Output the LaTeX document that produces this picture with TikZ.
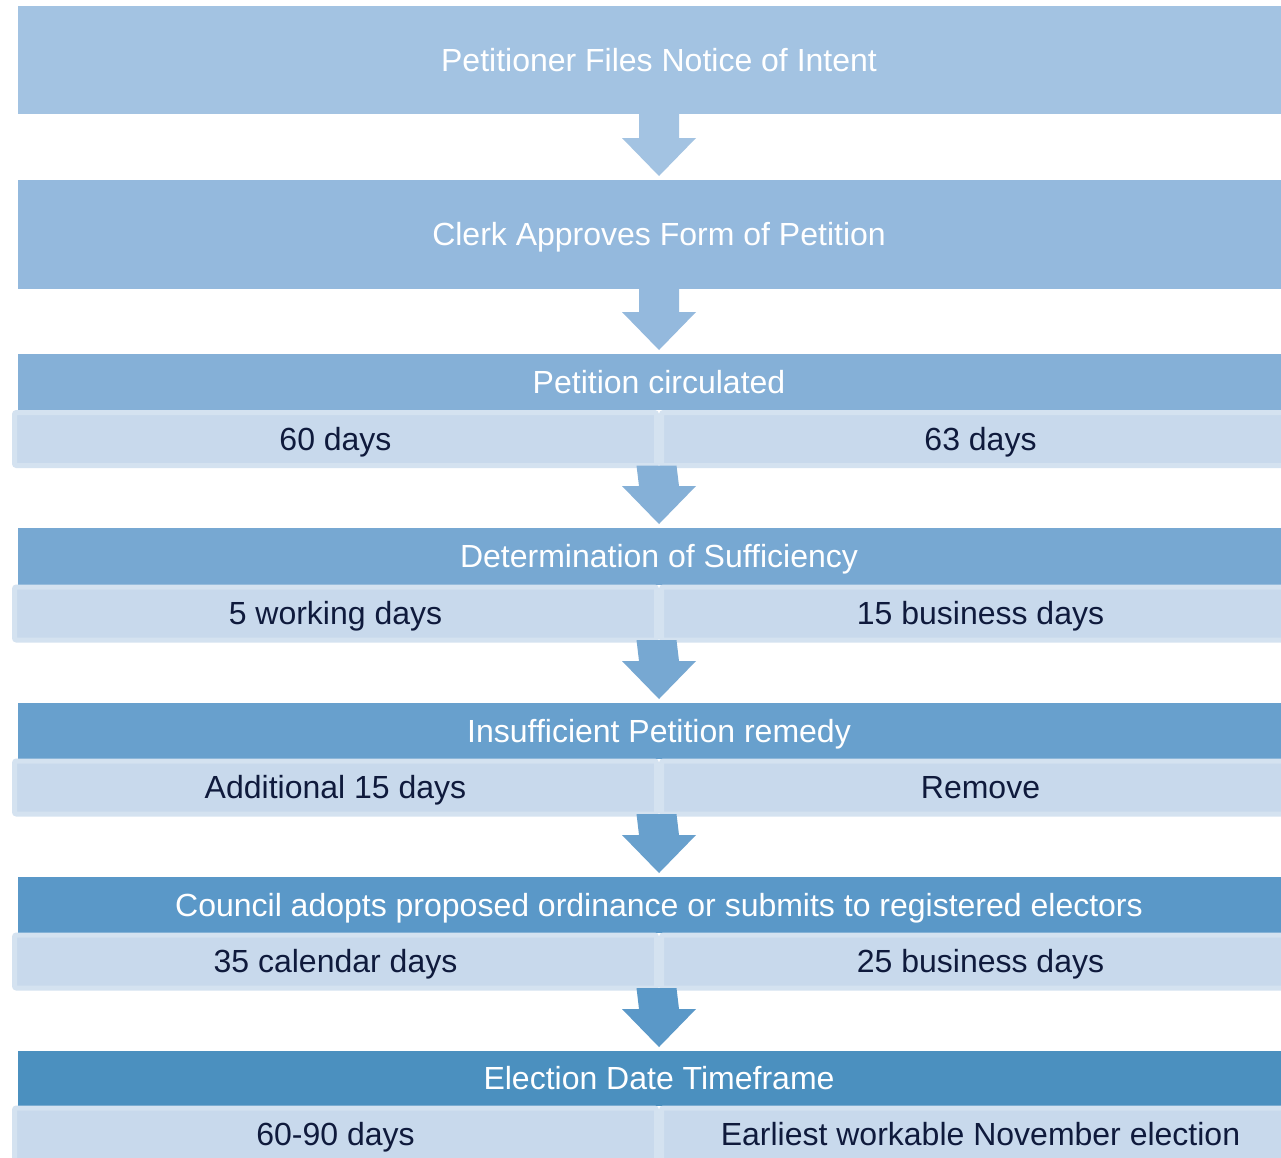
\documentclass[tikz,border=0pt]{standalone}
\usepackage{fontspec}
\setmainfont{Liberation Sans}
\usetikzlibrary{calc}
\definecolor{cA}{HTML}{A3C3E2}
\definecolor{cB}{HTML}{94B9DD}
\definecolor{cC}{HTML}{85B0D7}
\definecolor{cD}{HTML}{77A8D2}
\definecolor{cE}{HTML}{68A0CD}
\definecolor{cF}{HTML}{5A98C8}
\definecolor{cG}{HTML}{4B90BF}
\definecolor{cellfill}{HTML}{C8D9EC}
\definecolor{cellline}{HTML}{D4E2F0}
\definecolor{celltext}{HTML}{0F1A3C}
\newcommand\blockarrow[3]{\fill[#3] ($(#1)+(-20,0)$) -- ($(#2.north)+(-20,-42)$) -- ($(#2.north)+(-37,-42)$) -- ($(#2.north)+(0,-4)$) -- ($(#2.north)+(37,-42)$) -- ($(#2.north)+(20,-42)$) -- ($(#1)+(20,0)$) -- cycle;}
\begin{document}
\begin{tikzpicture}[x=1pt,y=-1pt,
  txt/.style={font=\fontsize{32}{36}\selectfont,text height=23pt,text depth=1pt},
  big/.style={txt,inner sep=0pt,outer sep=0pt,minimum width=1282pt,text=white,anchor=north west},
  head/.style={big},
  cell/.style={txt,draw=cellline,line width=5pt,fill=cellfill,rounded corners=2pt,inner sep=0pt,outer sep=0pt,minimum height=53pt,text=celltext},
  lcell/.style={cell,minimum width=642pt},
  rcell/.style={cell,minimum width=638pt}]
\useasboundingbox (0,0) rectangle (1281,1157);
\clip (0,0) rectangle (1281,1157);
\fill[white] (0,0) rectangle (1281,1157);
% boxes
\node[big,fill=cA,minimum height=108pt] (b1) at (18,6) {Petitioner Files Notice of Intent};
\node[big,fill=cB,minimum height=109pt] (b2) at (18,180) {Clerk Approves Form of Petition};
\node[head,fill=cC,minimum height=56pt] (b3) at (18,354) {Petition circulated};
\node[lcell] (l3) at (335.5,439) {60 days};
\node[rcell] (r3) at (980.5,439) {63 days};
\node[head,fill=cD,minimum height=57pt] (b4) at (18,528) {Determination of Sufficiency};
\node[lcell] (l4) at (335.5,613.5) {5 working days};
\node[rcell] (r4) at (980.5,613.5) {15 business days};
\node[head,fill=cE,minimum height=56pt] (b5) at (18,703) {Insufficient Petition remedy};
\node[lcell] (l5) at (335.5,787.5) {Additional 15 days};
\node[rcell] (r5) at (980.5,787.5) {Remove};
\node[head,fill=cF,minimum height=56pt] (b6) at (18,877) {Council adopts proposed ordinance or submits to registered electors};
\node[lcell] (l6) at (335.5,961.5) {35 calendar days};
\node[rcell] (r6) at (980.5,961.5) {25 business days};
\node[head,fill=cG,minimum height=55pt] (b7) at (18,1051) {Election Date Timeframe};
\node[lcell] (l7) at (335.5,1134.5) {60-90 days};
\node[rcell] (r7) at (980.5,1134.5) {Earliest workable November election};
% arrows
\blockarrow{b1.south}{b2}{cA}
\blockarrow{b2.south}{b3}{cB}
\blockarrow{l3.south east}{b4}{cC}
\blockarrow{l4.south east}{b5}{cD}
\blockarrow{l5.south east}{b6}{cE}
\blockarrow{l6.south east}{b7}{cF}
\end{tikzpicture}
\end{document}
